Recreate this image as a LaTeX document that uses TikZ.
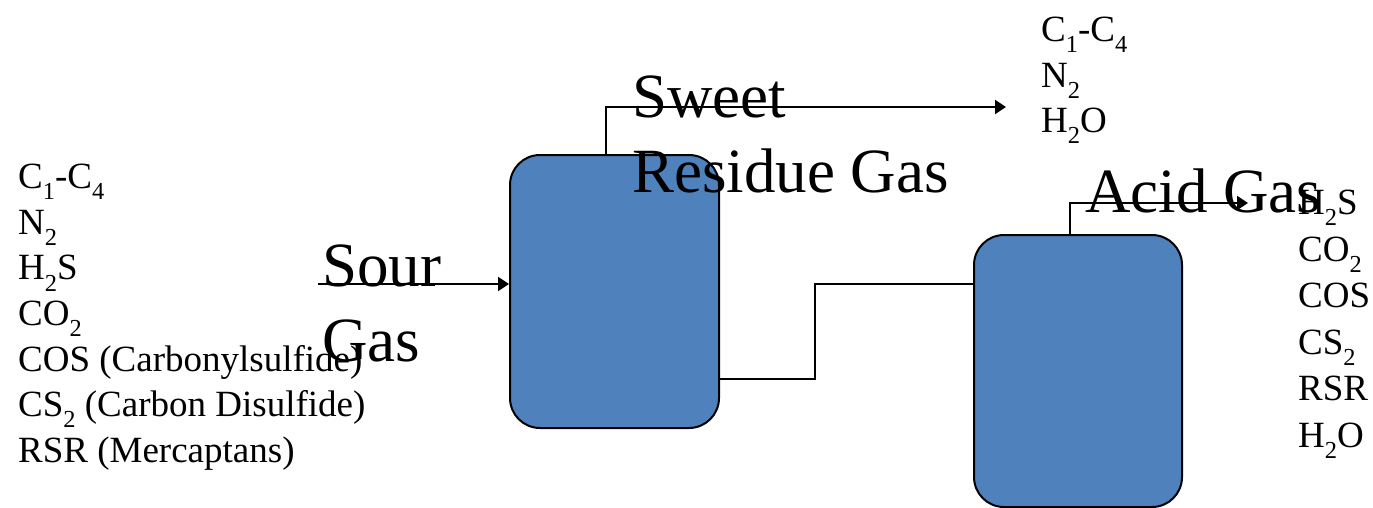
\documentclass[tikz,border=0pt]{standalone}
\usepackage{fontspec}
\setmainfont{Liberation Serif}
\usetikzlibrary{arrows.meta}
\newcommand\chsub[1]{\raisebox{-0.3em}{\scalebox{0.66}{#1}}}
\definecolor{vesselblue}{HTML}{4F81BD}
\tikzset{
  vessel/.style={draw=black, line width=2pt, fill=vesselblue, rounded corners=30pt, minimum width=209pt, minimum height=273pt, inner sep=0pt},
  flow/.style={draw=black, line width=2pt},
  flowarrow/.style={flow, -{Triangle[length=11pt,width=14pt]}},
  biglabel/.style={font=\fontsize{63}{75}\selectfont, align=left, inner sep=0pt, anchor=north west},
  listlabel/.style={font=\fontsize{37}{45.6}\selectfont, align=left, inner sep=0pt, anchor=north west}
}
\begin{document}
\begin{tikzpicture}[x=1pt,y=-1pt]
\useasboundingbox (0,0) rectangle (1373,508);
\node[vessel] (v1) at (614.5,291.5) {};
\node[vessel, minimum width=208pt, minimum height=272pt] (v2) at (1078,371) {};
\coordinate (sourin) at (318,284);
\coordinate (sweetend) at (1006,107);
\coordinate (acidend) at (1248,203);
\draw[flowarrow] (sourin) -- (v1.west |- sourin);
\draw[flowarrow] ([xshift=-8.5pt]v1.north) |- (sweetend);
\draw[flow] ([yshift=-87.5pt]v1.east) -- ++(95,0) |- ([yshift=87pt]v2.west);
\draw[flowarrow] ([xshift=-8pt]v2.north) |- (acidend);
\node[listlabel] (feed) at (18,164) {C\chsub{1}-C\chsub{4}\\N\chsub{2}\\H\chsub{2}S\\CO\chsub{2}\\COS (Carbonylsulfide)\\CS\chsub{2} (Carbon Disulfide)\\RSR (Mercaptans)};
\node[listlabel] (sweetlist) at (1041,17) {C\chsub{1}-C\chsub{4}\\N\chsub{2}\\H\chsub{2}O};
\node[listlabel, font=\fontsize{37}{46.5}\selectfont] (acidlist) at (1298,190) {H\chsub{2}S\\CO\chsub{2}\\COS\\CS\chsub{2}\\RSR\\H\chsub{2}O};
\node[biglabel] (sourlbl) at (322,245) {Sour\\Gas};
\node[biglabel] (sweetlbl) at (632,76) {Sweet\\Residue Gas};
\node[biglabel] (acidlbl) at (1085,169) {Acid Gas};
\end{tikzpicture}
\end{document}
